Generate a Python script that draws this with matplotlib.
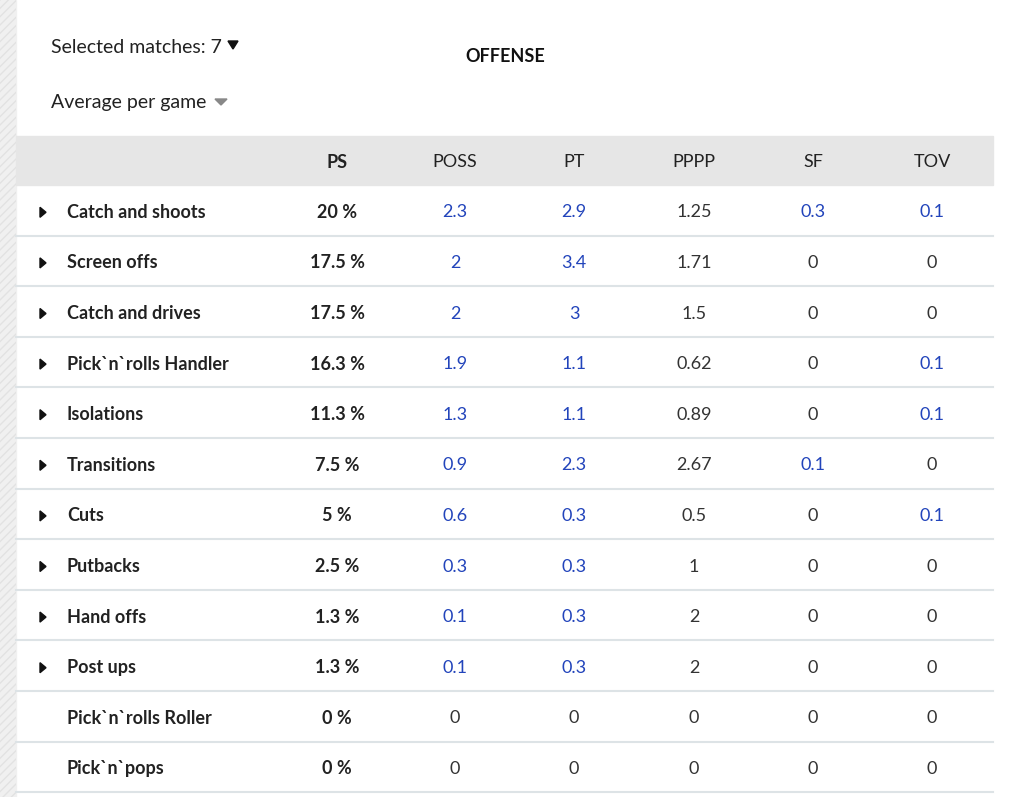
import matplotlib.pyplot as plt
from matplotlib.patches import Rectangle, Polygon

# Table data
columns = ["PS", "POSS", "PT", "PPPP", "SF", "TOV"]
play_types = ["Catch and shoots", "Screen offs", "Catch and drives",
              "Pick`n`rolls Handler", "Isolations", "Transitions", "Cuts",
              "Putbacks", "Hand offs", "Post ups", "Pick`n`rolls Roller",
              "Pick`n`pops"]
ps = [20, 17.5, 17.5, 16.3, 11.3, 7.5, 5, 2.5, 1.3, 1.3, 0, 0]
poss = [2.3, 2, 2, 1.9, 1.3, 0.9, 0.6, 0.3, 0.1, 0.1, 0, 0]
pt = [2.9, 3.4, 3, 1.1, 1.1, 2.3, 0.3, 0.3, 0.3, 0.3, 0, 0]
pppp = [1.25, 1.71, 1.5, 0.62, 0.89, 2.67, 0.5, 1, 2, 2, 0, 0]
sf = [0.3, 0, 0, 0, 0, 0.1, 0, 0, 0, 0, 0, 0]
tov = [0.1, 0, 0, 0.1, 0.1, 0, 0.1, 0, 0, 0, 0, 0]
expandable = [True] * 10 + [False] * 2

blue_cols = {"POSS", "PT", "SF", "TOV"}
values = {"POSS": poss, "PT": pt, "PPPP": pppp, "SF": sf, "TOV": tov}

plt.rcParams['font.family'] = ['Lato', 'DejaVu Sans']
FS = 13

W, H = 1024, 797
fig = plt.figure(figsize=(W / 100, H / 100), dpi=100)
ax = fig.add_axes([0, 0, 1, 1])
ax.set_xlim(0, W)
ax.set_ylim(H, 0)
ax.axis('off')

# background strip at left
ax.add_patch(Rectangle((0, 0), 16, H, color='#f0f0f0', zorder=0))
ax.add_patch(Rectangle((0, 0), 16, H, facecolor='none', edgecolor='#e2e2e2',
                       hatch='////', linewidth=0, zorder=0))

# controls and title
ax.text(51, 47, "Selected matches: 7", fontsize=14, va='center', color='#222222')
ax.add_patch(Polygon([[228, 41], [238, 41], [233, 49]], color='#111111'))
ax.text(51, 102, "Average per game", fontsize=14, va='center', color='#222222')
ax.add_patch(Polygon([[215, 99], [227, 99], [221, 105]], color='#888888'))
ax.text(505, 56, "OFFENSE", fontsize=FS, fontweight='bold', va='center',
        ha='center', color='#111111')

# header band
left, right = 16, 993
hdr_top, hdr_bot = 136, 185
ax.add_patch(Rectangle((left, hdr_top), right - left, hdr_bot - hdr_top,
                       color='#e6e6e6', zorder=1))
col_x = [337, 455, 574, 694, 813, 932]
for name, x in zip(columns, col_x):
    ax.text(x, 162, name, fontsize=FS, ha='center', va='center', color='#222222',
            fontweight='bold' if name == "PS" else 'normal', zorder=2)


def fmt(v):
    return f"{v:g}"


row_h = 50.6
for i, label in enumerate(play_types):
    yc = hdr_bot + row_h * (i + 0.5)
    yt = yc + 2
    yline = hdr_bot + row_h * (i + 1)
    ax.plot([left, right], [yline, yline], color='#dde3e6', lw=1.5)
    if expandable[i]:
        ax.add_patch(Polygon([[40, yt - 5], [40, yt + 5], [46, yt]], color='#111111'))
    ax.text(67, yt, label, fontsize=FS, fontweight='bold', va='center', color='#222222')
    ax.text(col_x[0], yt, f"{fmt(ps[i])} %", fontsize=FS, fontweight='bold',
            ha='center', va='center', color='#222222')
    for name, x in zip(columns[1:], col_x[1:]):
        v = values[name][i]
        c = '#2244bb' if (name in blue_cols and v != 0) else '#333333'
        ax.text(x, yt, fmt(v), fontsize=FS, ha='center', va='center', color=c)

fig.savefig("out.png", dpi=100)
